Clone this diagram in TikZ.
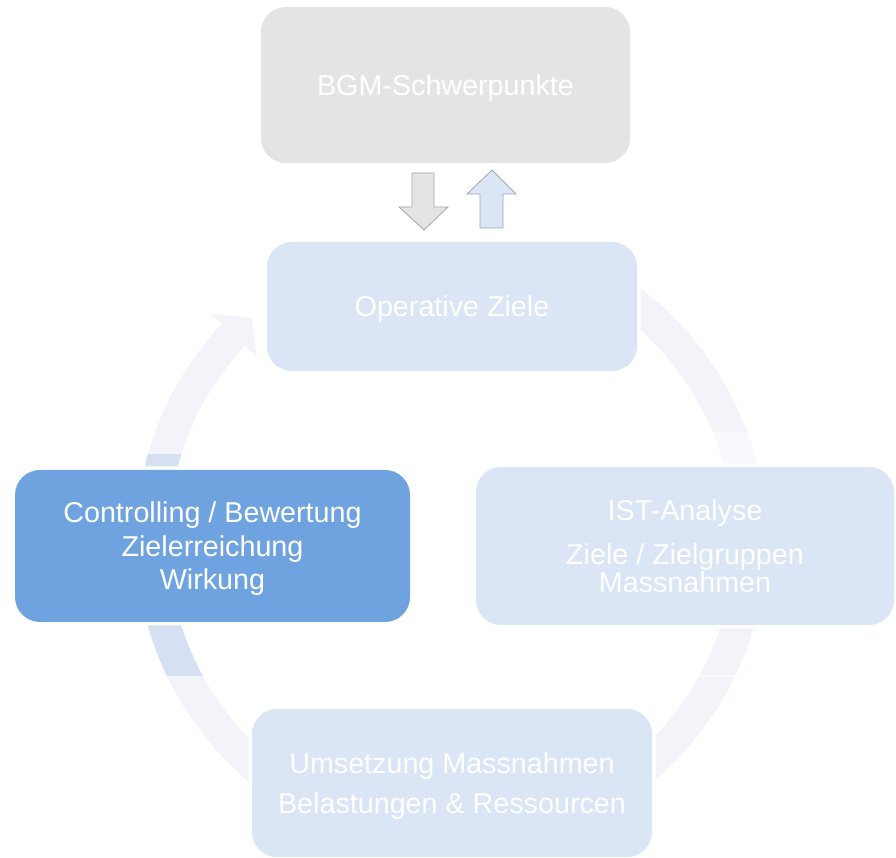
\documentclass[tikz,border=0pt]{standalone}
\usepackage{fontspec}
\setmainfont{Liberation Sans}
\begin{document}
\begin{tikzpicture}[x=1pt,y=1pt]
\definecolor{ringbase}{HTML}{F2F4FA}
\definecolor{ringdark}{HTML}{D5E0F2}
\definecolor{ringlight}{HTML}{F8F9FC}
\definecolor{boxpale}{HTML}{DAE6F6}
\definecolor{boxgray}{HTML}{E4E4E4}
\definecolor{boxstrong}{HTML}{6FA3DF}
\definecolor{arrowline}{HTML}{A6A6A6}
\tikzset{
  stagebox/.style={rounded corners=25pt, text=white, align=center, inner sep=0pt,
    font=\fontsize{28.7}{33.5}\selectfont,
    preaction={draw=white, line width=7pt}},
  lowtext/.style={text depth=0pt},
  blockarrow/.style={draw=arrowline, line width=0.8pt, line join=miter}
}
\useasboundingbox (0,0) rectangle (896,858);

% cycle ring: left part with arrow head, right part
\begin{scope}[shift={(451,318)}]
  \fill[ringbase] (136.7:315) arc[start angle=136.7, end angle=250, radius=315]
    -- (250:283) arc[start angle=250, end angle=136.7, radius=283]
    -- (136.7:267) -- (131.9:298) -- (136.7:330) -- cycle;
  \fill[ringbase] (62:315) arc[start angle=62, end angle=-70, radius=315]
    -- (-70:283) arc[start angle=-70, end angle=62, radius=283] -- cycle;
\end{scope}

% shaded bands of the ring next to the side boxes
\begin{scope}
  \clip (0,385) rectangle (451,403);
  \fill[ringdark, shift={(451,318)}] (150:315) arc[start angle=150, end angle=210, radius=315]
    -- (210:283) arc[start angle=210, end angle=150, radius=283] -- cycle;
\end{scope}
\begin{scope}
  \clip (0,182) rectangle (451,236);
  \fill[ringdark, shift={(451,318)}] (150:315) arc[start angle=150, end angle=240, radius=315]
    -- (240:283) arc[start angle=240, end angle=150, radius=283] -- cycle;
\end{scope}
\begin{scope}
  \clip (451,385) rectangle (896,425);
  \fill[ringlight, shift={(451,318)}] (40:315) arc[start angle=40, end angle=-40, radius=315]
    -- (-40:283) arc[start angle=-40, end angle=40, radius=283] -- cycle;
\end{scope}
\begin{scope}
  \clip (451,181.4) rectangle (896,182.6);
  \fill[ringlight, shift={(451,318)}] (0:315) arc[start angle=0, end angle=-60, radius=315]
    -- (-60:283) arc[start angle=-60, end angle=0, radius=283] -- cycle;
\end{scope}

% stages
\node[stagebox, lowtext, fill=boxgray, minimum width=369, minimum height=156] (bgm) at (445.5,773) {BGM-Schwerpunkte};
\node[stagebox, lowtext, fill=boxpale, minimum width=370, minimum height=129] (ziele) at (452,551.5) {Operative Ziele};
\node[stagebox, lowtext, fill=boxstrong, minimum width=395, minimum height=152] (controlling) at (212.5,312)
  {Controlling / Bewertung\\Zielerreichung\\Wirkung};
\node[stagebox, fill=boxpale, minimum width=418, minimum height=158] (analyse) at (685,312)
  {IST-Analyse\\[10.5pt]Ziele / Zielgruppen\\[-5.5pt]Massnahmen};
\node[stagebox, lowtext, fill=boxpale, minimum width=400, minimum height=148] (umsetzung) at (452,75)
  {Umsetzung Massnahmen\\[6.5pt]Belastungen \& Ressourcen};

% exchange arrows between the two upper stages
\draw[blockarrow, fill=boxgray] (412,685) -- (434,685) -- (434,651) -- (448,651)
  -- (424,628) -- (399,651) -- (412,651) -- cycle;
\draw[blockarrow, fill=boxpale] (480,630) -- (503,630) -- (503,664) -- (516,664)
  -- (492,688) -- (467,664) -- (480,664) -- cycle;
\end{tikzpicture}
\end{document}
